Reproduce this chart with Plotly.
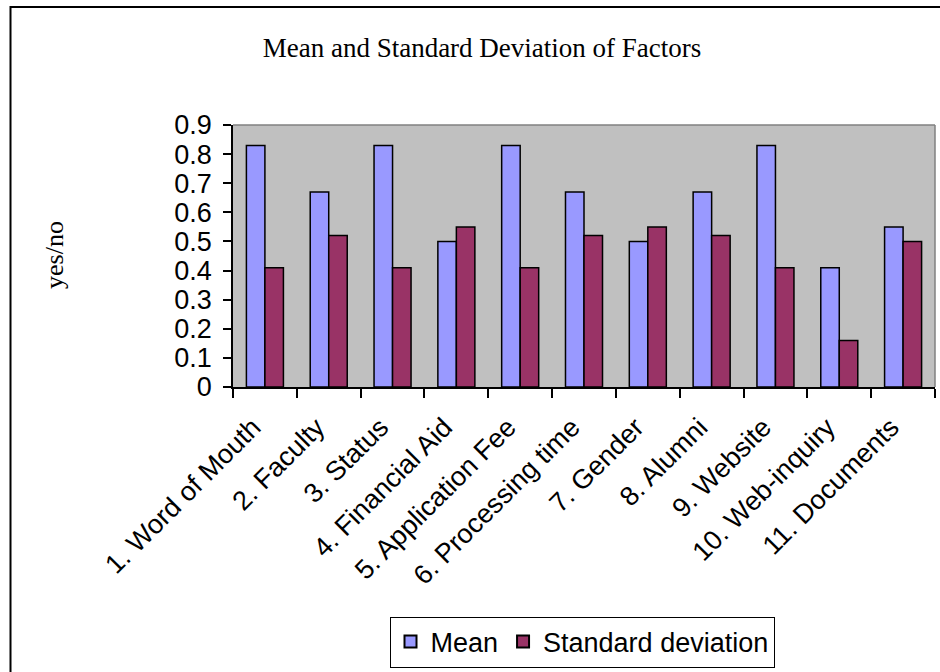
import plotly.graph_objects as go

categories = ["1. Word of Mouth", "2. Faculty", "3. Status", "4. Financial Aid",
              "5. Application Fee", "6. Processing time", "7. Gender", "8. Alumni",
              "9. Website", "10. Web-inquiry", "11. Documents"]
mean_vals = [0.83, 0.67, 0.83, 0.50, 0.83, 0.67, 0.50, 0.67, 0.83, 0.41, 0.55]
sd_vals = [0.41, 0.52, 0.41, 0.55, 0.41, 0.52, 0.55, 0.52, 0.41, 0.16, 0.50]
y_ticks = [0, 0.1, 0.2, 0.3, 0.4, 0.5, 0.6, 0.7, 0.8, 0.9]
y_ticktext = ["0", "0.1", "0.2", "0.3", "0.4", "0.5", "0.6", "0.7", "0.8", "0.9"]

W, H = 940, 672
L, R, T, B = 233, 5, 125, 285

sans = "Liberation Sans, Arial, sans-serif"
serif = "Liberation Serif, Times New Roman, serif"

fig = go.Figure()
fig.add_trace(go.Bar(x=categories, y=mean_vals, name="Mean",
                     marker=dict(color="#9999FF", line=dict(color="black", width=1.5))))
fig.add_trace(go.Bar(x=categories, y=sd_vals, name="Standard deviation",
                     marker=dict(color="#993366", line=dict(color="black", width=1.5))))

fig.update_layout(
    width=W, height=H,
    margin=dict(l=L, r=R, t=T, b=B, pad=0),
    paper_bgcolor="white", plot_bgcolor="#C0C0C0",
    barmode="group", bargap=0.42, bargroupgap=0,
    title=dict(text="Mean and Standard Deviation of Factors", x=482 / W, xref="container",
               xanchor="center", y=1 - 48 / H, yref="container", yanchor="middle",
               font=dict(family=serif, size=27, color="black")),
    font=dict(family=sans, color="black"),
    showlegend=True,
    legend=dict(orientation="h", xref="container", yref="container",
                x=582 / W, xanchor="center", y=1 - 642 / H, yanchor="middle",
                bordercolor="black", borderwidth=1, bgcolor="white",
                font=dict(family=sans, size=27, color="black"),
                itemsizing="constant"),
    xaxis=dict(showline=True, linecolor="black", linewidth=1.5, ticks="outside",
               tickson="boundaries", ticklen=9, tickcolor="black", tickwidth=1.5,
               tickangle=-45, tickfont=dict(family=sans, size=27, color="black"),
               showgrid=False, zeroline=False, ticklabelstandoff=12, ticklabelshift=-12),
    yaxis=dict(range=[0, 0.9], tickvals=y_ticks, ticktext=y_ticktext,
               showline=True, linecolor="black", linewidth=1.5, ticks="outside",
               ticklen=8, tickcolor="black", tickwidth=1.5,
               tickfont=dict(family=sans, size=27, color="black"),
               showgrid=False, zeroline=False, ticklabelstandoff=6),
)

# plot-area border top/right (gray)
fig.add_shape(type="line", xref="paper", yref="paper", x0=0, x1=1, y0=1, y1=1,
              line=dict(color="#808080", width=1.5))
fig.add_shape(type="line", xref="paper", yref="paper", x0=1, x1=1, y0=0, y1=1,
              line=dict(color="#808080", width=1.5))

# outer frame (top and left lines)
pw, ph = W - L - R, H - T - B
def px(xp):
    return (xp - L) / pw
def py(yp):
    return (H - B - yp) / ph
fig.add_shape(type="line", xref="paper", yref="paper", x0=px(10), x1=px(945),
              y0=py(7), y1=py(7), line=dict(color="black", width=2))
fig.add_shape(type="line", xref="paper", yref="paper", x0=px(10.5), x1=px(10.5),
              y0=py(6), y1=py(680), line=dict(color="black", width=2))

# y-axis title
fig.add_annotation(text="yes/no", xref="paper", yref="paper", x=px(54), y=py(255),
                   textangle=-90, showarrow=False, xanchor="center", yanchor="middle",
                   font=dict(family=serif, size=26, color="black"))

fig.write_html("out.html")
